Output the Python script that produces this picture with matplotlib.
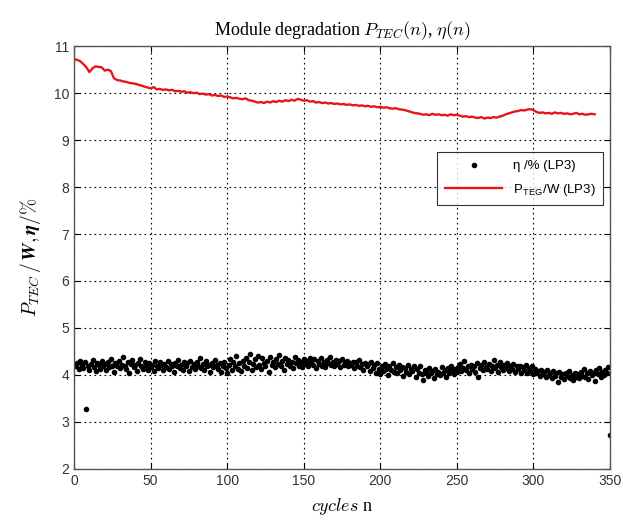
import matplotlib
matplotlib.use("Agg")
import matplotlib.pyplot as plt
import numpy as np

# ---- data ----
eta_cycles = list(range(1, 351))
eta_values = [
    4.18, 4.25, 4.12, 4.30, 4.22, 4.15, 4.27, 3.27, 4.20, 4.10,
    4.24, 4.31, 4.17, 4.08, 4.26, 4.21, 4.13, 4.29, 4.19, 4.23,
    4.11, 4.28, 4.16, 4.34, 4.20, 4.07, 4.25, 4.18, 4.30, 4.14,
    4.22, 4.38, 4.19, 4.12, 4.27, 4.05, 4.24, 4.31, 4.17, 4.21,
    4.09, 4.26, 4.33, 4.18, 4.13, 4.28, 4.20, 4.11, 4.25, 4.16,
    4.22, 4.08, 4.30, 4.19, 4.14, 4.27, 4.21, 4.10, 4.24, 4.17,
    4.29, 4.12, 4.23, 4.18, 4.06, 4.26, 4.20, 4.32, 4.15, 4.22,
    4.11, 4.27, 4.19, 4.25, 4.09, 4.30, 4.16, 4.23, 4.13, 4.28,
    4.20, 4.35, 4.14, 4.24, 4.10, 4.29, 4.18, 4.22, 4.07, 4.26,
    4.17, 4.31, 4.21, 4.12, 4.25, 4.06, 4.19, 4.28, 4.15, 4.03,
    4.22, 4.34, 4.11, 4.27, 4.18, 4.40, 4.13, 4.25, 4.08, 4.30,
    4.20, 4.37, 4.15, 4.28, 4.44, 4.10, 4.24, 4.33, 4.17, 4.41,
    4.22, 4.12, 4.35, 4.26, 4.19, 4.30, 4.07, 4.38, 4.21, 4.27,
    4.16, 4.33, 4.24, 4.42, 4.18, 4.29, 4.11, 4.36, 4.23, 4.31,
    4.19, 4.27, 4.14, 4.39, 4.25, 4.32, 4.20, 4.28, 4.16, 4.34,
    4.23, 4.30, 4.18, 4.37, 4.26, 4.21, 4.33, 4.15, 4.29, 4.24,
    4.35, 4.20, 4.28, 4.17, 4.31, 4.25, 4.38, 4.22, 4.27, 4.19,
    4.32, 4.24, 4.29, 4.16, 4.34, 4.21, 4.26, 4.30, 4.18, 4.25,
    4.22, 4.28, 4.14, 4.27, 4.20, 4.31, 4.17, 4.24, 4.10, 4.26,
    4.19, 4.23, 4.08, 4.28, 4.15, 4.21, 4.05, 4.25, 4.12, 4.02,
    4.18, 4.09, 4.24, 4.13, 4.00, 4.20, 4.11, 4.26, 4.06, 4.16,
    4.03, 4.21, 4.10, 4.17, 3.98, 4.14, 4.07, 4.22, 4.01, 4.12,
    4.08, 4.19, 3.96, 4.13, 4.05, 4.18, 4.02, 3.90, 4.11, 4.06,
    3.97, 4.15, 4.04, 4.09, 3.94, 4.12, 4.01, 4.07, 3.99, 4.16,
    4.05, 4.10, 3.95, 4.14, 4.03, 4.20, 4.08, 4.02, 4.12, 4.06,
    4.17, 4.23, 4.09, 4.14, 4.30, 4.11, 4.19, 4.05, 4.22, 4.13,
    4.18, 4.07, 4.25, 3.95, 4.15, 4.21, 4.10, 4.28, 4.16, 4.12,
    4.24, 4.08, 4.19, 4.31, 4.14, 4.22, 4.06, 4.27, 4.17, 4.11,
    4.21, 4.15, 4.26, 4.09, 4.19, 4.13, 4.23, 4.07, 4.18, 4.12,
    4.20, 4.05, 4.16, 4.10, 4.22, 4.03, 4.14, 4.08, 4.18, 4.01,
    4.12, 4.04, 4.09, 3.97, 4.11, 4.02, 4.07, 3.95, 4.10, 4.00,
    4.05, 3.93, 4.08, 3.98, 4.03, 3.85, 4.06, 3.96, 4.01, 3.92,
    4.04, 3.97, 4.08, 3.94, 4.00, 3.90, 4.05, 3.96, 4.02, 3.93,
    4.07, 3.98, 4.12, 3.95, 4.03, 3.91, 4.09, 3.99, 4.05, 3.88,
    4.10, 4.01, 4.14, 3.96, 4.06, 3.99, 4.11, 4.03, 4.16, 2.72,
]

p_cycles = list(range(0, 341, 2))
p_values = [
    10.72, 10.71, 10.68, 10.62, 10.55, 10.45, 10.53, 10.57, 10.56, 10.55,
    10.48, 10.50, 10.47, 10.32, 10.28, 10.27, 10.25, 10.24, 10.22, 10.21,
    10.20, 10.18, 10.16, 10.14, 10.12, 10.10, 10.13, 10.08, 10.09, 10.07,
    10.08, 10.06, 10.07, 10.04, 10.05, 10.03, 10.04, 10.01, 10.02, 10.00,
    10.01, 9.98, 9.99, 9.97, 9.98, 9.95, 9.96, 9.94, 9.95, 9.92,
    9.93, 9.91, 9.89, 9.90, 9.88, 9.87, 9.89, 9.85, 9.84, 9.82,
    9.80, 9.81, 9.79, 9.82, 9.80, 9.83, 9.81, 9.84, 9.82, 9.85,
    9.83, 9.86, 9.84, 9.88, 9.86, 9.84, 9.85, 9.82, 9.83, 9.80,
    9.81, 9.79, 9.80, 9.78, 9.79, 9.77, 9.78, 9.76, 9.77, 9.75,
    9.76, 9.74, 9.75, 9.73, 9.74, 9.72, 9.73, 9.71, 9.72, 9.70,
    9.71, 9.69, 9.70, 9.68, 9.67, 9.68, 9.66, 9.65, 9.64, 9.62,
    9.60, 9.58, 9.57, 9.56, 9.54, 9.55, 9.53, 9.56, 9.54, 9.55,
    9.53, 9.54, 9.52, 9.55, 9.53, 9.54, 9.52, 9.50, 9.51, 9.49,
    9.50, 9.48, 9.47, 9.49, 9.46, 9.48, 9.47, 9.49, 9.48, 9.50,
    9.52, 9.55, 9.57, 9.59, 9.61, 9.62, 9.64, 9.63, 9.65, 9.66,
    9.64, 9.60, 9.58, 9.59, 9.57, 9.58, 9.56, 9.59, 9.57, 9.58,
    9.56, 9.57, 9.55, 9.56, 9.58, 9.55, 9.56, 9.54, 9.55, 9.56,
    9.55,
]

x_ticks = [0, 50, 100, 150, 200, 250, 300, 350]
y_ticks = [2, 3, 4, 5, 6, 7, 8, 9, 10, 11]

plt.rcParams['mathtext.fontset'] = 'cm'

fig = plt.figure(figsize=(6.23, 5.25), dpi=100)
ax = fig.add_axes([0.119, 0.107, 0.860, 0.805])

ax.plot(eta_cycles, eta_values, linestyle='none', marker='o', markersize=3.0,
        color='black', label=r'η /% (LP3)')
ax.plot(p_cycles, p_values, color='#e8141c', linewidth=1.7,
        label=r'P$_{\mathregular{TEG}}$/W (LP3)')

ax.set_xlim(0, 350)
ax.set_ylim(2, 11)
ax.set_xticks(x_ticks)
ax.set_yticks(y_ticks)
ax.grid(True, color='black', linestyle=(0, (1.5, 3)), linewidth=0.8)
ax.tick_params(direction='in', top=True, right=True, length=4,
               labelsize=10)
for lab in ax.get_xticklabels() + ax.get_yticklabels():
    lab.set_family('Liberation Sans')
    lab.set_color('#333333')
for sp in ax.spines.values():
    sp.set_color('#555555')
    sp.set_linewidth(1.0)

ax.set_title(r'Module degradation $P_{TEC}(n)$, $\eta(n)$',
             family='Liberation Serif', fontsize=13, pad=8)
ax.set_xlabel(r'$cycles$ n', family='Liberation Serif', fontsize=13,
              labelpad=6)
ax.set_ylabel(r'$\boldsymbol{P_{TEC}\,/\,W,\eta/\%}$', fontsize=14, labelpad=8)

leg = ax.legend(loc='upper right', bbox_to_anchor=(1.0, 0.765),
                prop={'family': 'Liberation Sans', 'size': 9.5},
                frameon=True, fancybox=False, edgecolor='black',
                handlelength=4.3, borderpad=0.6, labelspacing=0.7)
leg.get_frame().set_linewidth(0.8)

fig.savefig('out.png', dpi=100)
